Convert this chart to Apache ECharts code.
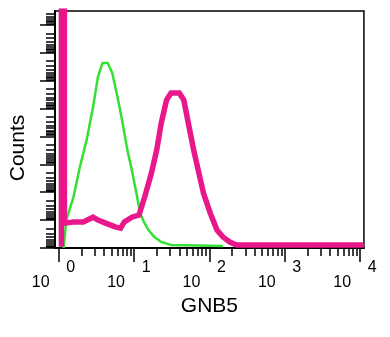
<!DOCTYPE html>
<html>
<head>
<meta charset="utf-8">
<script src="https://cdn.jsdelivr.net/npm/echarts@6/dist/echarts.min.js"></script>
<style>
html,body{margin:0;padding:0;background:#fff;}
#c{width:390px;height:337px;}
</style>
</head>
<body>
<div id="c"></div>
<script>
// x positions are log10(fluorescence), y are counts (arbitrary, axis 0..100)
var decadeTicks = [0, 1, 2, 3, 4];
var greenX = [0.065, 0.10, 0.195, 0.28, 0.37, 0.455, 0.52, 0.58, 0.65, 0.71, 0.78, 0.84, 0.91, 0.97, 1.04, 1.08, 1.13, 1.19, 1.27, 1.36, 1.49, 2.18];
var greenY = [0, 11.8, 21.5, 34.2, 45.6, 59.5, 72.2, 78.1, 78.1, 73.8, 63.7, 54, 41.4, 32.9, 21.5, 14.8, 11, 7.6, 4.6, 2.5, 1.3, 0.8];
var pinkX = [0.035, 0.035, 0.075, 0.075, 0.10, 0.195, 0.325, 0.455, 0.52, 0.62, 0.75, 0.82, 0.87, 0.97, 1.065, 1.14, 1.23, 1.30, 1.36, 1.43, 1.49, 1.60, 1.66, 1.73, 1.79, 1.86, 1.92, 2.01, 2.10, 2.18, 2.27, 2.36, 4.05];
var pinkY = [0.5, 100, 100, 10.5, 10.5, 11, 11, 13, 11.8, 10.5, 8.9, 8.4, 11, 13, 13.9, 21.5, 31.6, 41.4, 52.7, 62.4, 65.4, 65.4, 62.4, 51, 41.4, 31.6, 23.2, 14.8, 7.6, 4.6, 2.5, 1.3, 1.3];

function zip(a, b) { return a.map(function (v, i) { return [v, b[i]]; }); }

var minorX = [];
for (var d = 0; d < 4; d++) for (var k = 2; k <= 9; k++) minorX.push(d + Math.log10(k));
var yMajor = [], yMinor = [];
for (var d2 = 0; d2 <= 8; d2++) {
  yMajor.push(d2);
  for (var k2 = 2; k2 <= 9; k2++) { var p = d2 + 1 - Math.log10(k2); if (p < 8.5) yMinor.push(p); }
}

var chart = echarts.init(document.getElementById('c'), null, {renderer: 'canvas'});
var FONT = 'Liberation Sans';
chart.setOption({
  animation: false,
  backgroundColor: '#fff',
  grid: {left: 51, right: 23, top: 11, bottom: 89, show: true, borderColor: '#000', borderWidth: 1.5},
  xAxis: [{
    type: 'value', min: -0.05, max: 4.05, position: 'bottom',
    axisLine: {show: true, onZero: false, lineStyle: {color: '#000', width: 2}},
    axisTick: {show: true, inside: false, length: 14, customValues: decadeTicks, lineStyle: {color: '#000', width: 1.5}},
    axisLabel: {
      show: true, customValues: decadeTicks, margin: 12,
      formatter: function (v) { return '{e|' + v + '}\n{b|10}'; },
      rich: {
        e: {fontFamily: FONT, fontSize: 16, color: '#000', lineHeight: 15, padding: [0, 0, 0, 24], align: 'center'},
        b: {fontFamily: FONT, fontSize: 16, color: '#000', lineHeight: 15, padding: [0, 36, 0, 0], align: 'center'}
      }
    },
    splitLine: {show: false},
    name: 'GNB5', nameLocation: 'middle', nameGap: 43,
    nameTextStyle: {fontFamily: FONT, fontSize: 21, color: '#000'}
  }, {
    type: 'value', min: -0.05, max: 4.05, position: 'bottom',
    axisLine: {show: false, onZero: false},
    axisTick: {show: true, inside: false, length: 8, customValues: minorX, lineStyle: {color: '#000', width: 1.5}},
    axisLabel: {show: false},
    splitLine: {show: false}
  }],
  yAxis: [{
    type: 'value', min: 0, max: 100, position: 'left',
    axisLine: {show: true, onZero: false, lineStyle: {color: '#000', width: 2}},
    axisTick: {show: false},
    axisLabel: {show: false},
    splitLine: {show: false},
    name: 'Counts', nameLocation: 'middle', nameGap: 26, nameRotate: 90,
    nameTextStyle: {fontFamily: FONT, fontSize: 21, color: '#000', padding: [0, 37, 0, 0]}
  }, {
    type: 'value', min: 0, max: 8.5, position: 'left',
    axisLine: {show: false, onZero: false},
    axisTick: {show: true, inside: false, length: 15, customValues: yMajor, lineStyle: {color: '#000', width: 1.5}},
    axisLabel: {show: false},
    splitLine: {show: false}
  }, {
    type: 'value', min: 0, max: 8.5, position: 'left',
    axisLine: {show: false, onZero: false},
    axisTick: {show: true, inside: false, length: 9, customValues: yMinor, lineStyle: {color: '#000', width: 1.5}},
    axisLabel: {show: false},
    splitLine: {show: false}
  }],
  series: [{
    type: 'line', xAxisIndex: 0, yAxisIndex: 0, data: zip(greenX, greenY),
    showSymbol: false, lineStyle: {color: '#33e033', width: 2.5}, z: 2
  }, {
    type: 'line', xAxisIndex: 0, yAxisIndex: 0, data: zip(pinkX, pinkY),
    showSymbol: false, lineStyle: {color: '#e8178a', width: 5.5, join: 'miter'}, z: 3
  }]
});
</script>
</body>
</html>
